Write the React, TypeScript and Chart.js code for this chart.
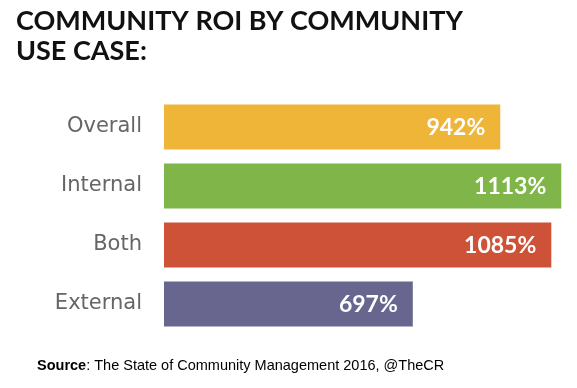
import React, { useEffect, useRef } from "react";
import { Chart, registerables } from "chart.js";

Chart.register(...registerables);

const categories = ["Overall", "Internal", "Both", "External"];
const roiValues = [942, 1113, 1085, 697];
const valueLabels = ["942%", "1113%", "1085%", "697%"];
const barColors = ["#EFB539", "#7FB549", "#CE5238", "#68668F"];
const titleLines = ["COMMUNITY ROI BY COMMUNITY", "USE CASE:"];
const sourceBold = "Source";
const sourceRest = ": The State of Community Management 2016, @TheCR";

const textPlugin = {
  id: "textPlugin",
  afterDraw(chart: any) {
    const ctx = chart.ctx as CanvasRenderingContext2D;
    ctx.save();
    // title
    ctx.fillStyle = "#111111";
    ctx.font = "bold 27px Lato";
    ctx.textAlign = "left";
    ctx.textBaseline = "alphabetic";
    titleLines.forEach((t, i) => ctx.fillText(t, 16, 30 + i * 30));
    // value labels
    const meta = chart.getDatasetMeta(0);
    ctx.fillStyle = "#ffffff";
    ctx.font = "bold 23px Lato";
    ctx.textAlign = "right";
    ctx.textBaseline = "middle";
    meta.data.forEach((bar: any, i: number) => {
      ctx.fillText(valueLabels[i], bar.x - 15, bar.y + 1);
    });
    // source
    ctx.textAlign = "left";
    ctx.textBaseline = "alphabetic";
    ctx.fillStyle = "#000000";
    ctx.font = "bold 14.5px 'Liberation Sans'";
    ctx.fillText(sourceBold, 37, 370);
    const w = ctx.measureText(sourceBold).width;
    ctx.font = "14.5px 'Liberation Sans'";
    ctx.fillText(sourceRest, 37 + w, 370);
    ctx.restore();
  },
};

export default function App() {
  const ref = useRef<HTMLCanvasElement>(null);
  useEffect(() => {
    document.body.style.margin = "0";
    const chart = new Chart(ref.current!, {
      type: "bar",
      data: {
        labels: categories,
        datasets: [
          {
            data: roiValues,
            backgroundColor: barColors,
            categoryPercentage: 1,
            barPercentage: 0.763,
          },
        ],
      },
      options: {
        indexAxis: "y",
        animation: false,
        responsive: false,
        layout: { padding: { top: 97.5, bottom: 54.5, right: 2.5, left: 0 } },
        plugins: { legend: { display: false }, tooltip: { enabled: false } },
        scales: {
          x: { display: false, min: 0, max: 1150 },
          y: {
            grid: { display: false, drawTicks: false },
            border: { display: false },
            ticks: {
              padding: 22,
              color: "#666666",
              font: { family: "'DejaVu Sans'", size: 21 },
            },
            afterFit: (scale: any) => {
              scale.width = 164;
            },
          },
        },
      },
      plugins: [textPlugin],
    });
    return () => chart.destroy();
  }, []);
  return (
    <div style={{ width: 577, height: 388, background: "#fff" }}>
      <canvas ref={ref} width={577} height={388} />
    </div>
  );
}
